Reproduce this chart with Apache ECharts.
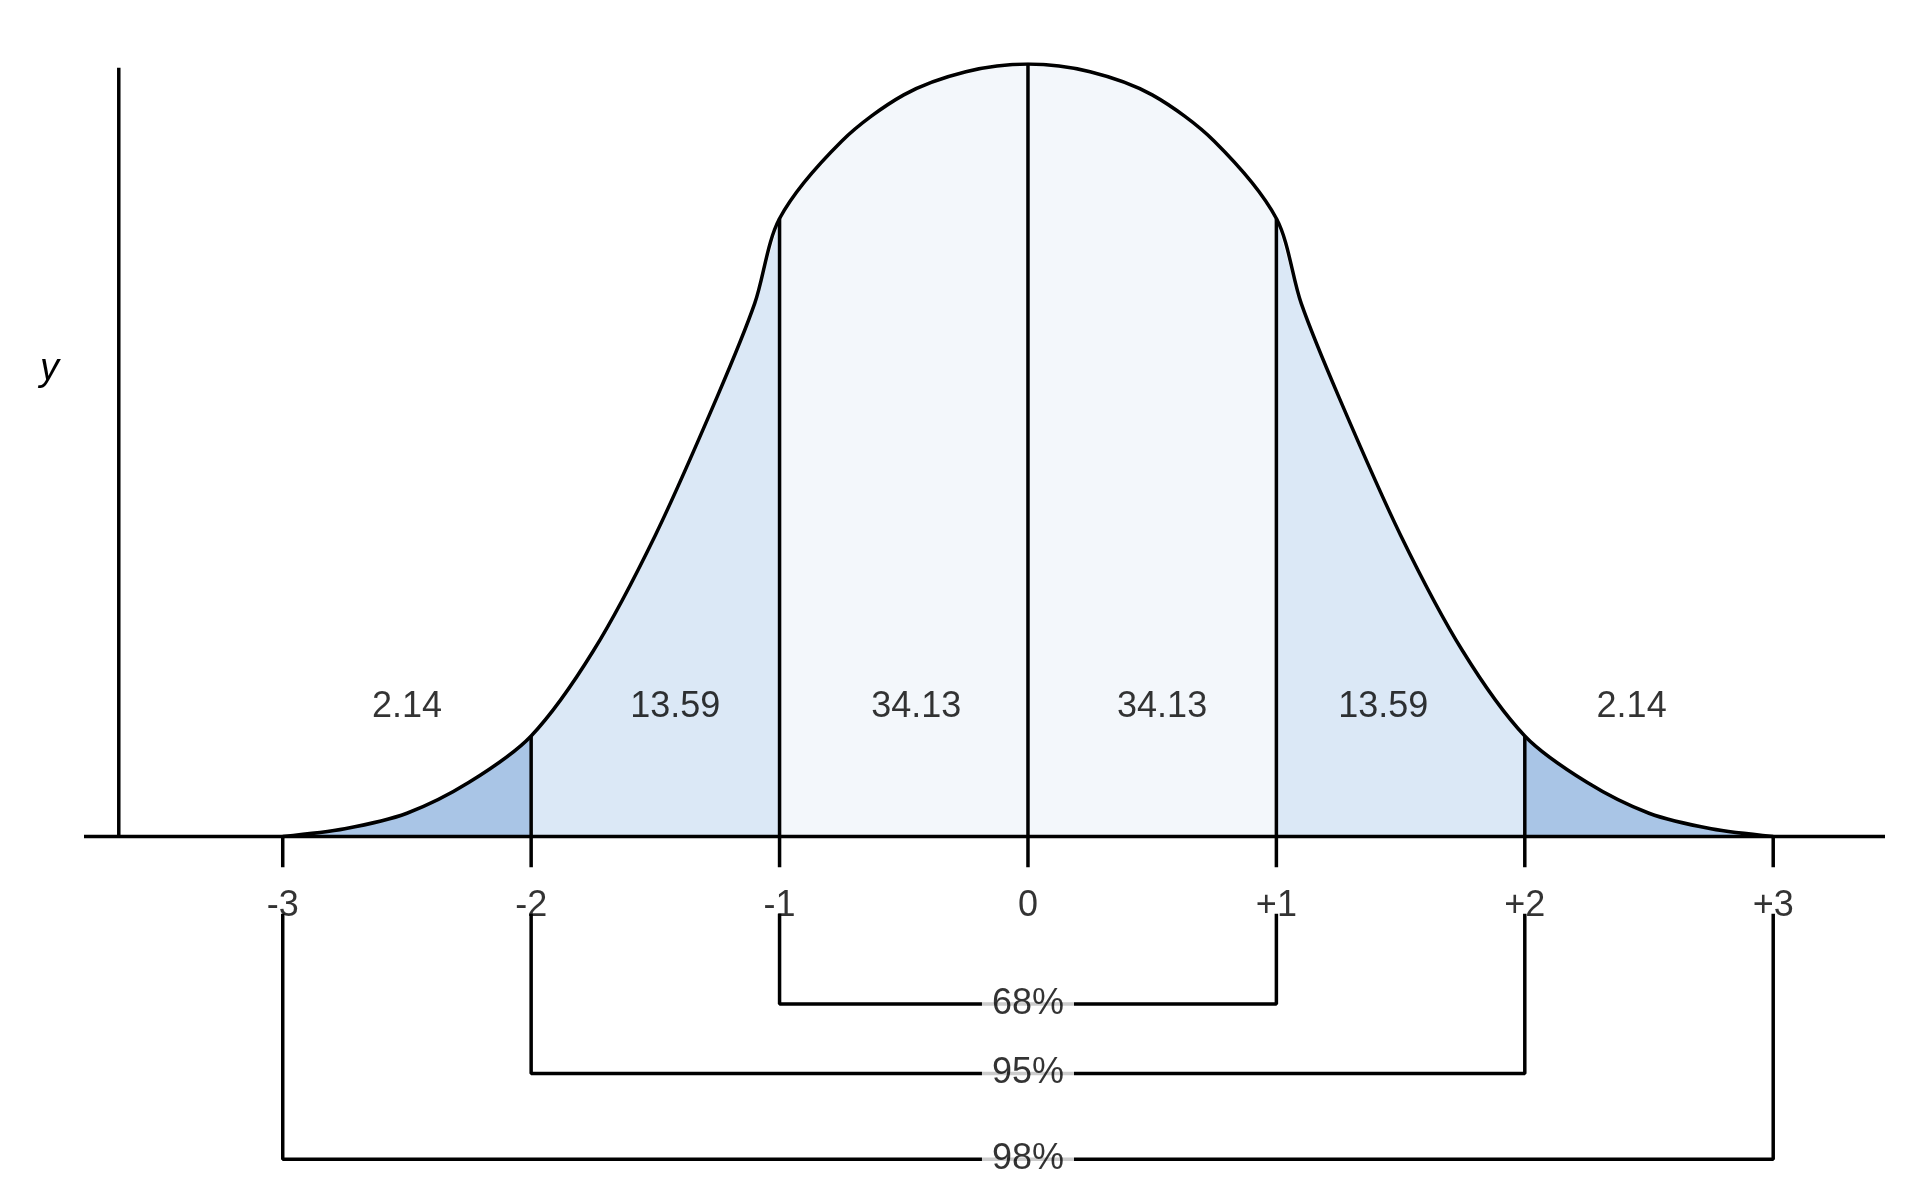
<!DOCTYPE html>
<html><head><meta charset="utf-8">
<script src="https://cdn.jsdelivr.net/npm/echarts@6/dist/echarts.min.js"></script>
<style>html,body{margin:0;padding:0;background:#fff}#c{width:1920px;height:1200px}</style>
</head><body><div id="c"></div>
<script>
const curveX = [-3,-2.75,-2.5,-2.25,-2,-1.75,-1.5,-1.25,-1.1,-1,-0.75,-0.5,-0.25,0,0.25,0.5,0.75,1,1.1,1.25,1.5,1.75,2,2.25,2.5,2.75,3];
const curveY = [0,0.01,0.03,0.07,0.13,0.24,0.39,0.57,0.69,0.80,0.90,0.96,0.99,1,0.99,0.96,0.90,0.80,0.69,0.57,0.39,0.24,0.13,0.07,0.03,0.01,0];
const tickValues = [-3,-2,-1,0,1,2,3];
const tickLabels = ['-3','-2','-1','0','+1','+2','+3'];
const areaLabels = ['2.14','13.59','34.13','34.13','13.59','2.14'];
const areaLabelX = [-2.5,-1.42,-0.45,0.54,1.43,2.43];
const brackets = [{lo:-1,hi:1,y:-0.217,text:'68%'},{lo:-2,hi:2,y:-0.307,text:'95%'},{lo:-3,hi:3,y:-0.418,text:'98%'}];
const dividers = [-2,-1,0,1,2];

const pts = curveX.map((x,i)=>[x,curveY[i]]);
const seg = (a,b)=>pts.filter(p=>p[0]>=a&&p[0]<=b);
const heightAt = x => curveY[curveX.indexOf(x)];
const DARK='#a9c5e6', MID='#dbe8f6', LIGHT='#f3f7fb';
const font = 'Liberation Sans';
const series = [];
function area(a,b,col){series.push({type:'line',data:seg(a,b),smooth:0.3,symbol:'none',lineStyle:{width:0},areaStyle:{color:col,opacity:1},z:1});}
area(-3,-2,DARK);area(-2,-1,MID);area(-1,1,LIGHT);area(1,2,MID);area(2,3,DARK);
function line(data,z){series.push({type:'line',data,symbol:'none',lineStyle:{color:'#000',width:3.5},z:z||3});}
dividers.forEach(x=>line([[x,0],[x,heightAt(x)]]));
series.push({type:'line',data:pts,smooth:0.3,symbol:'none',lineStyle:{color:'#000',width:3.5},z:4});
line([[-3.8,0],[3.45,0]]);
line([[-3.66,0],[-3.66,0.995]]);
tickValues.forEach(x=>line([[x,0],[x,-0.04]]));
brackets.forEach(b=>line([[b.lo,-0.1],[b.lo,b.y],[b.hi,b.y],[b.hi,-0.1]]));
series.push({type:'scatter',symbolSize:0,z:6,data:tickValues.map((x,i)=>({value:[x,-0.09],label:{formatter:tickLabels[i]}})),
  label:{show:true,position:'inside',color:'#000',fontSize:36,fontFamily:font}});
series.push({type:'scatter',symbolSize:0,z:6,data:areaLabelX.map((x,i)=>({value:[x,0.167],label:{formatter:areaLabels[i]}})),
  label:{show:true,position:'inside',color:'#000',fontSize:36,fontFamily:font}});
series.push({type:'scatter',symbolSize:0,z:6,data:brackets.map(b=>({value:[0,b.y],label:{formatter:b.text}})),
  label:{show:true,position:'inside',color:'#000',fontSize:36,fontFamily:font,backgroundColor:'#fff',padding:[0,10]}});
const chart = echarts.init(document.getElementById('c'));
chart.setOption({
  animation:false,
  grid:{left:84,right:35,top:64,bottom:16},
  xAxis:{type:'value',min:-3.8,max:3.45,show:false},
  yAxis:{type:'value',min:-0.45,max:1,show:false},
  graphic:[{type:'text',left:40,top:350,style:{text:'y',fontSize:38,fontStyle:'italic',fontFamily:font,fill:'#000'}}],
  series
});
</script></body></html>
